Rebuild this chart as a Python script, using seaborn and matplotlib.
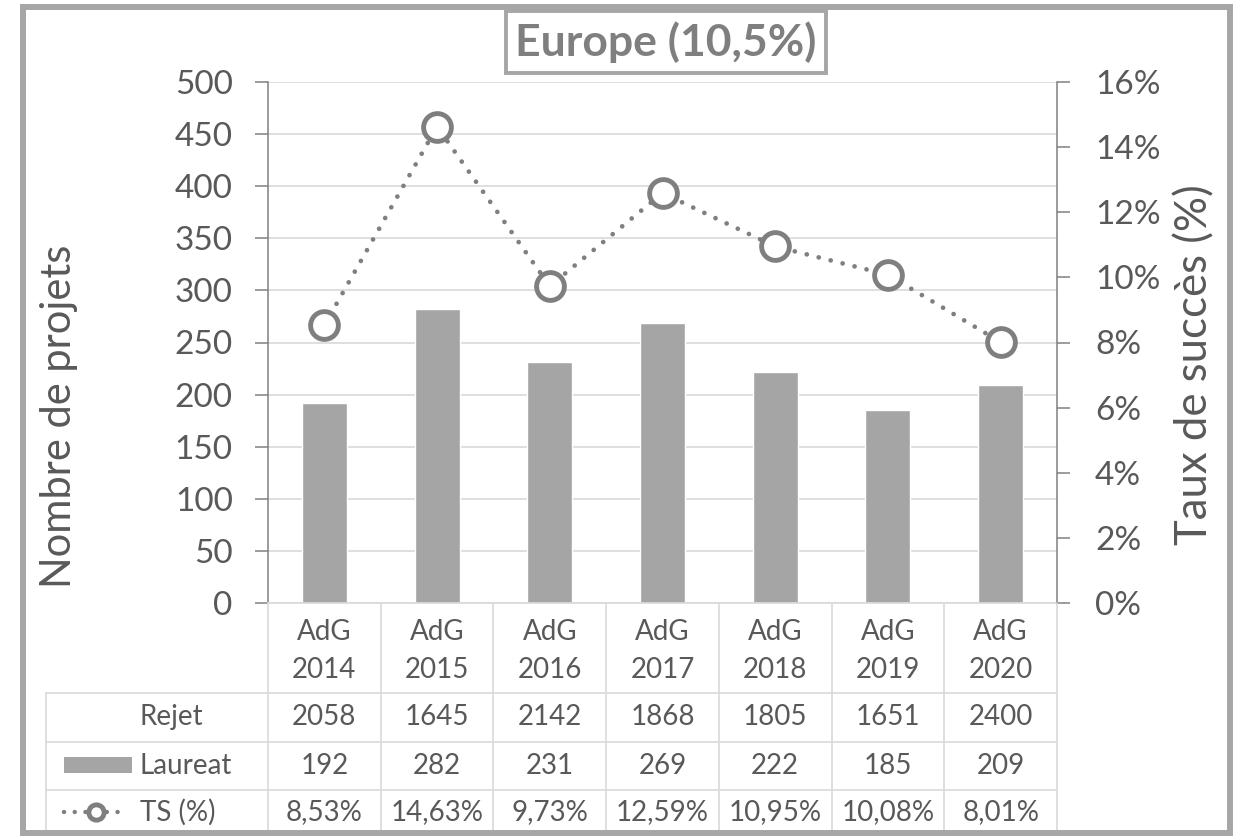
import matplotlib
matplotlib.use("Agg")
import matplotlib.pyplot as plt
import matplotlib.transforms as mtransforms
from matplotlib.lines import Line2D
from matplotlib.patches import Rectangle
from matplotlib.ticker import FuncFormatter, MultipleLocator
import numpy as np
import pandas as pd
import seaborn as sns

# data
categories = ["AdG\n2014", "AdG\n2015", "AdG\n2016", "AdG\n2017", "AdG\n2018", "AdG\n2019", "AdG\n2020"]
rejet = [2058, 1645, 2142, 1868, 1805, 1651, 2400]
laureat = [192, 282, 231, 269, 222, 185, 209]
ts_pct = [8.53, 14.63, 9.73, 12.59, 10.95, 10.08, 8.01]
ts_labels = ["8,53%", "14,63%", "9,73%", "12,59%", "10,95%", "10,08%", "8,01%"]

W, H = 1233, 836
sns.set_theme(style="white")
plt.rcParams["font.family"] = ["Lato", "DejaVu Sans"]

bar_color = "#A5A5A5"
line_color = "#7F7F7F"
text_color = "#595959"
grid_color = "#D9D9D9"
axis_color = "#808080"

fig = plt.figure(figsize=(W / 100, H / 100), dpi=100)
fig.patch.set_facecolor("white")


def fx(px):
    return px / W


def fy(py):
    return 1 - py / H


ax = fig.add_axes([fx(268), fy(603), fx(1057) - fx(268), fy(82) - fy(603)])

df = pd.DataFrame({"cat": categories, "laureat": laureat, "ts": np.array(ts_pct) / 100})
sns.barplot(data=df, x="cat", y="laureat", color=bar_color, width=0.4,
            saturation=1, ax=ax, zorder=2)
ax.set_ylim(0, 500)
ax.yaxis.set_major_locator(MultipleLocator(50))
ax.grid(True, axis="y", color=grid_color, linewidth=1.2, zorder=0)
ax.set_axisbelow(True)
ax.set_xlabel("")
ax.set_ylabel("")
ax.set_xticks([])

ax2 = ax.twinx()
sns.lineplot(x=np.arange(len(categories)), y=df["ts"], ax=ax2, color=line_color,
             linewidth=3.4, linestyle=(0, (0.01, 2.6)), dash_capstyle="round",
             marker="o", markersize=20, markeredgewidth=3.5, markeredgecolor=line_color,
             markerfacecolor="white", zorder=3)
ax2.set_ylim(0, 0.16)
ax2.yaxis.set_major_locator(MultipleLocator(0.02))
ax2.yaxis.set_major_formatter(FuncFormatter(lambda v, p: f"{v * 100:.0f}%"))
ax2.set_ylabel("")
ax.set_xlim(-0.5, len(categories) - 0.5)

for a in (ax, ax2):
    for s in a.spines.values():
        s.set_visible(False)
ax.spines["left"].set_visible(True)
ax.spines["left"].set_color(axis_color)
ax.spines["left"].set_linewidth(1.1)
ax.spines["bottom"].set_visible(True)
ax.spines["bottom"].set_color(grid_color)
ax.spines["bottom"].set_linewidth(1.2)
ax2.spines["right"].set_visible(True)
ax2.spines["right"].set_color(axis_color)
ax2.spines["right"].set_linewidth(1.1)

ax.tick_params(axis="y", direction="out", length=9.4, width=1.1, color=axis_color,
               labelsize=24, labelcolor=text_color, pad=16, left=True)
ax2.tick_params(axis="y", direction="out", length=9.4, width=1.1, color=axis_color,
                labelsize=24, labelcolor=text_color, pad=18, right=True)

fig.text(fx(59), fy(416), "Nombre de projets", rotation=90, ha="center", va="center",
         fontsize=30, color=text_color)
fig.text(fx(1195), fy(365), "Taux de succès (%)", rotation=90, ha="center", va="center",
         fontsize=31.5, color=text_color)

fig.text(fx(666), fy(42), "Europe (10,5%)", ha="center", va="center", fontsize=32,
         fontweight="bold", color=line_color,
         bbox=dict(boxstyle="square,pad=0.22", facecolor="white", edgecolor="#A6A6A6",
                   linewidth=2.8))

# data table under the plot
blend = mtransforms.blended_transform_factory(ax.transData, fig.transFigure)
row_y = {"head": 651, "rejet": 717, "laureat": 766, "ts": 812}
for i, cat in enumerate(categories):
    fig.text(i, fy(row_y["head"]), cat, transform=blend, ha="center", va="center",
             fontsize=20, color=text_color, linespacing=1.55)
    fig.text(i, fy(row_y["rejet"]), str(rejet[i]), transform=blend, ha="center",
             va="center", fontsize=20, color=text_color)
    fig.text(i, fy(row_y["laureat"]), str(laureat[i]), transform=blend, ha="center",
             va="center", fontsize=20, color=text_color)
    fig.text(i, fy(row_y["ts"]), ts_labels[i], transform=blend, ha="center",
             va="center", fontsize=20, color=text_color)

for k in range(len(categories) + 1):
    fig.add_artist(Line2D([k - 0.5, k - 0.5], [fy(603), fy(836)], transform=blend,
                          color=grid_color, linewidth=1.2))
for py in (693, 742, 790):
    fig.add_artist(Line2D([fx(46), fx(1057)], [fy(py), fy(py)], color=grid_color,
                          linewidth=1.2))
fig.add_artist(Line2D([fx(46), fx(46)], [fy(693), fy(836)], color=grid_color,
                      linewidth=1.2))

fig.text(fx(140), fy(row_y["rejet"]), "Rejet", ha="left", va="center", fontsize=20,
         color=text_color)
fig.text(fx(140), fy(row_y["laureat"]), "Laureat", ha="left", va="center", fontsize=20,
         color=text_color)
fig.text(fx(140), fy(row_y["ts"]), "TS (%)", ha="left", va="center", fontsize=20,
         color=text_color)
fig.add_artist(Rectangle((fx(64), fy(773)), fx(132) - fx(64), fy(757) - fy(773),
                         facecolor=bar_color, edgecolor="none"))
fig.add_artist(Line2D([fx(64), fx(128)], [fy(812), fy(812)], color=line_color,
                      linewidth=3.2, linestyle=(0, (0.01, 2.4)), dash_capstyle="round"))
fig.add_artist(Line2D([fx(96)], [fy(812)], marker="o", markersize=11,
                      markeredgewidth=3.5, markeredgecolor=line_color,
                      markerfacecolor="white"))

# chart area frame
fig.add_artist(Rectangle((fx(23), fy(833)), fx(1230) - fx(23), fy(6.5) - fy(833),
                         facecolor="none", edgecolor="#A6A6A6", linewidth=4.3,
                         zorder=10))

fig.savefig("out.png", dpi=100, facecolor="white")
